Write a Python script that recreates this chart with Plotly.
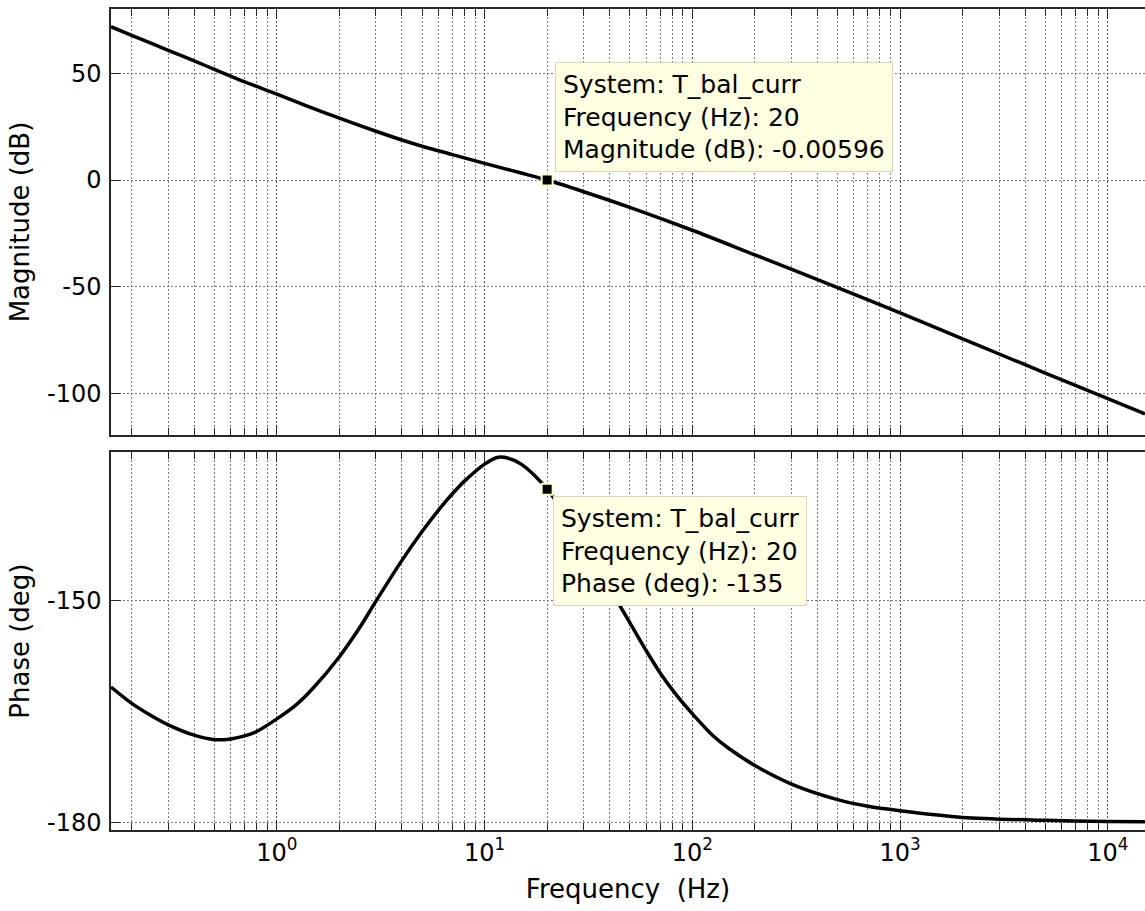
import math
import plotly.graph_objects as go

# ---- Bode data for T_bal_curr ----
mag_freq_hz = [0.159, 0.2, 0.3, 0.4, 0.5, 0.7, 1, 1.4, 2, 3, 4, 5, 7, 10, 15, 20,
               30, 50, 100, 200, 500, 1000, 2000, 3000, 5000, 10000, 15100]
mag_db = [71.7, 67.7, 60.7, 55.7, 51.8, 45.9, 40.2, 34.6, 28.9, 22.8, 18.7, 15.8,
          11.9, 7.8, 3.25, -0.00596,
          -5.5, -12.8, -23.5, -35.0, -50.3, -62.2, -74.3, -81.4, -90.3, -102.3, -109.4]

phase_freq_hz = [0.159, 0.2, 0.25, 0.3, 0.4, 0.5, 0.6, 0.7, 0.8, 1, 1.25, 1.5, 2, 2.5,
                 3, 4, 5, 6, 7, 8, 10, 11.5, 13, 15, 17.5, 20, 25, 30, 35, 40, 45,
                 50, 60, 70, 85, 100, 125, 150, 200, 300, 500, 700, 1000, 2000,
                 5000, 10000, 15100]
phase_deg = [-161.7, -163.9, -165.6, -166.8, -168.2, -168.8, -168.7, -168.3, -167.7,
             -166.0, -164.0, -161.8, -157.6, -153.7, -150.1, -144.6, -140.7, -137.8,
             -135.6, -133.9, -131.6, -130.7, -130.8, -131.6, -133.2, -135.0, -138.7,
             -142.2, -145.4, -148.2, -150.8, -153.0, -156.8, -159.8, -163.0, -165.3,
             -168.2, -170.0, -172.3, -174.8, -176.9, -177.8, -178.4, -179.3, -179.7,
             -179.85, -179.9]

# data tips
system_name = "T_bal_curr"
tip_freq_hz = 20
tip_mag_db = -0.00596
tip_phase_deg = -135

# axis ticks
decade_ticks = [1, 10, 100, 1000, 10000]
decade_labels = ["10<sup>0</sup>", "10<sup>1</sup>", "10<sup>2</sup>",
                 "10<sup>3</sup>", "10<sup>4</sup>"]
mag_ticks = [-100, -50, 0, 50]
mag_labels = ["-100", "-50", "0", "50"]
phase_ticks = [-180, -150]
phase_labels = ["-180", "-150"]
minor_ticks = [m * 10 ** k for k in range(-1, 5) for m in range(2, 10)]

FONT = "DejaVu Sans"
AX = "#262626"
GRID_DASH = "2px,2px"

fig = go.Figure()

curve_line = dict(color="black", width=3.5, shape="spline", smoothing=0.8)
fig.add_trace(go.Scatter(x=mag_freq_hz, y=mag_db, mode="lines", line=curve_line,
                         xaxis="x", yaxis="y", hoverinfo="skip", showlegend=False))
fig.add_trace(go.Scatter(x=phase_freq_hz, y=phase_deg, mode="lines", line=curve_line,
                         xaxis="x2", yaxis="y2", hoverinfo="skip", showlegend=False))

tip_marker = dict(symbol="square", size=11, color="black",
                  line=dict(color="#ffffcc", width=2))
fig.add_trace(go.Scatter(x=[tip_freq_hz], y=[tip_mag_db], mode="markers",
                         marker=tip_marker, xaxis="x", yaxis="y",
                         hoverinfo="skip", showlegend=False))
fig.add_trace(go.Scatter(x=[tip_freq_hz], y=[tip_phase_deg], mode="markers",
                         marker=tip_marker, xaxis="x2", yaxis="y2",
                         hoverinfo="skip", showlegend=False))


def freq_axis(anchor, labels):
    ax = dict(
        type="log", range=[-0.7985, 4.179], anchor=anchor,
        showline=True, linecolor=AX, linewidth=1.5, mirror="ticks",
        ticks="inside", ticklen=10, tickwidth=1.2, tickcolor=AX,
        tickmode="array", tickvals=decade_ticks,
        showgrid=True, gridcolor="#505050", gridwidth=1, griddash=GRID_DASH,
        zeroline=False,
        minor=dict(tickmode="array", tickvals=minor_ticks, ticks="inside",
                   ticklen=7, tickwidth=1, tickcolor=AX, showgrid=True,
                   gridcolor="#7d7d7d", gridwidth=1, griddash=GRID_DASH),
    )
    if labels:
        ax.update(ticktext=decade_labels, showticklabels=True,
                  tickfont=dict(family=FONT, size=24, color="black"),
                  title=dict(text="Frequency\u00a0 (Hz)", standoff=14,
                             font=dict(family=FONT, size=26, color="black")))
    else:
        ax.update(showticklabels=False)
    return ax


def value_axis(anchor, domain, rng, ticks, tick_text, title):
    return dict(
        anchor=anchor, domain=domain, range=rng,
        showline=True, linecolor=AX, linewidth=1.5, mirror=False,
        ticks="inside", ticklen=10, tickwidth=1.2, tickcolor=AX,
        tickmode="array", tickvals=ticks, ticktext=tick_text, ticklabelstandoff=3,
        tickfont=dict(family=FONT, size=24, color="black"),
        showgrid=True, gridcolor="#7a7a7a", gridwidth=1, griddash=GRID_DASH,
        zeroline=False,
        title=dict(text=title, standoff=10,
                   font=dict(family=FONT, size=26, color="black")),
    )


tip_box = dict(showarrow=False, align="left", bgcolor="#ffffe1",
               bordercolor="#d6d6c0", borderwidth=1, borderpad=7,
               font=dict(family=FONT, size=25, color="black"))

fig.update_layout(
    width=1145, height=911,
    margin=dict(l=111, r=0, t=9, b=81),
    paper_bgcolor="white", plot_bgcolor="white",
    xaxis=freq_axis("y", False),
    xaxis2=freq_axis("y2", True),
    yaxis=value_axis("x", [0.4811, 1.0], [-119.3, 80], mag_ticks, mag_labels,
                     "Magnitude (dB)"),
    yaxis2=value_axis("x2", [0.0, 0.4601], [-181, -130], phase_ticks, phase_labels,
                      "Phase (deg)"),
    annotations=[
        dict(tip_box, xref="x", yref="y", x=math.log10(tip_freq_hz), y=tip_mag_db,
             xanchor="left", yanchor="bottom", xshift=8, yshift=8,
             text=f"System: {system_name}<br>Frequency (Hz): {tip_freq_hz}"
                  f"<br>Magnitude (dB): {tip_mag_db}"),
        dict(tip_box, xref="x2", yref="y2", x=math.log10(tip_freq_hz), y=tip_phase_deg,
             xanchor="left", yanchor="top", xshift=6, yshift=-7,
             text=f"System: {system_name}<br>Frequency (Hz): {tip_freq_hz}"
                  f"<br>Phase (deg): {tip_phase_deg}"),
    ],
)

fig.write_html("out.html")
